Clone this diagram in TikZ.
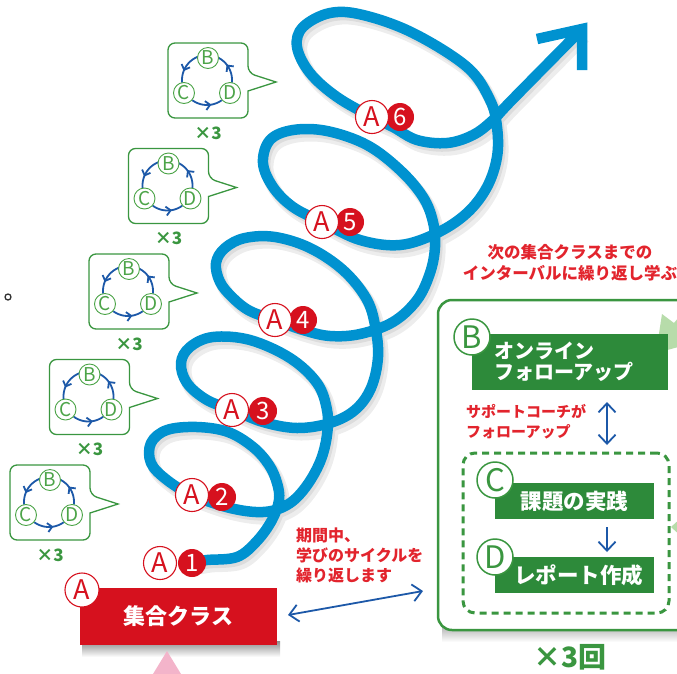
\documentclass[tikz,border=0pt]{standalone}
\usepackage{fontspec}
\setmainfont{Noto Sans CJK JP}
\usetikzlibrary{arrows.meta,decorations.markings}
\definecolor{spiral}{RGB}{0,146,208}
\definecolor{redA}{RGB}{214,17,30}
\definecolor{redtxt}{RGB}{226,36,45}
\definecolor{gbox}{RGB}{45,138,58}
\definecolor{gline}{RGB}{58,150,64}
\definecolor{glight}{RGB}{76,164,72}
\definecolor{lgreen}{RGB}{183,220,170}
\definecolor{dblue}{RGB}{28,88,168}
\definecolor{pinktri}{RGB}{243,180,202}
\newcommand\fs[2]{\fontsize{#1}{#2}\selectfont}
\newcommand\spiralpath{plot[smooth,tension=0.6] coordinates {(196,562) (207,560) (237,557) (257,541) (272,520) (279,500) (277,483) (269,465) (253,447) (228,432) (197,427) (167,430) (151,443) (151,463) (167,480) (192,495) (230,508) (263,512) (287,505) (305,488) (320,462) (327,435) (327,410) (317,383) (290,358) (250,340) (213,337) (190,347) (181,363) (187,383) (207,400) (233,410) (263,422) (297,428) (330,423) (355,410) (371,388) (378,357) (375,325) (366,298) (343,270) (310,248) (275,237) (245,238) (225,248) (216,263) (220,282) (233,298) (250,311) (275,320) (303,330) (330,336) (360,334) (393,322) (417,300) (430,273) (435,247) (433,222) (423,197) (400,170) (367,145) (327,131) (293,130) (270,140) (263,163) (273,187) (293,207) (322,222) (360,240) (400,245) (437,233) (467,213) (487,187) (497,157) (497,127) (490,100) (467,67) (413,33) (363,15) (330,13) (303,27) (297,47) (310,73) (337,97) (372,117) (393,127) (417,140) (447,143) (473,135) (493,120) (511,101) (580,31)}}
\tikzset{
 spiralline/.style={draw=spiral, line width=10.5pt, line join=round},
 shadowline/.style={draw=black, line width=13pt, opacity=0.07, line join=round},
 alab/.style={circle, draw=redA, line width=1.1pt, fill=white, text=redA, minimum size=33pt, inner sep=0pt, font=\fs{27}{27}},
 nlab/.style={circle, fill=redA, text=white, minimum size=28pt, inner sep=0pt, font=\fs{24}{24}},
 bubbleline/.style={draw=gline, line width=1.3pt, fill=white},
 bl/.style={circle, draw=glight, line width=0.9pt, fill=white, text=glight, minimum size=21pt, inner sep=0pt, font=\fs{19}{19}},
 cyc/.style={draw=dblue, line width=1.8pt, postaction={decorate}, decoration={markings, mark=at position 0.64 with {\arrow{Straight Barb[length=4.5pt,width=9pt]}}}},
 timestxt/.style={text=gline, font=\bfseries\fs{17}{17}, inner sep=0pt},
 redbox/.style={fill=redA, text=white, minimum width=197pt, minimum height=57pt, inner sep=0pt, font=\bfseries\fs{22}{22}},
 gcirc/.style={circle, draw=gline, line width=1.5pt, fill=white, text=gline, minimum size=36pt, inner sep=0pt, font=\fs{31}{31}},
 greenbar/.style={fill=gbox, text=white, inner sep=0pt, font=\bfseries\fs{21.5}{21.5}},
 rednote/.style={text=redtxt, inner sep=0pt},
 dbarrow/.style={draw=dblue, line width=1.8pt, arrows={Straight Barb[length=9pt,width=17pt]-Straight Barb[length=9pt,width=17pt]}},
 sbarrow/.style={draw=dblue, line width=1.8pt, arrows={-Straight Barb[length=9pt,width=17pt]}},
 cyclebubble/.pic={
   \draw[bubbleline] (0,37) [rounded corners=7pt] -- (0,0) -- (80,0) -- (80,30) [sharp corners] -- (108,39) -- (80,48) [rounded corners=7pt] -- (80,75) -- (0,75) -- cycle;
   \foreach \a/\b in {249/174,126/54,6/-63}
     \draw[cyc] plot[domain=\a:\b,samples=24] ({39+25*cos(\x)},{37+25*sin(\x)});
   \node[bl] (-B) at (40,15) {B};
   \node[bl] (-C) at (16,50) {C};
   \node[bl] (-D) at (62,50) {D};
   \node[timestxt] (-n) at (40,90) {×3};
 }
}
\begin{document}
\begin{tikzpicture}[x=1pt,y=-1pt]
\useasboundingbox (0,0) rectangle (677,673);
\clip (0,0) rectangle (677,673);
% stray mark
\draw[black!80, line width=1.3pt] (8,297) circle[radius=3pt];
% bubbles
\pic (bub5) at (10,465) {cyclebubble};
\pic (bub4) at (49.5,359.5) {cyclebubble};
\pic (bub3) at (89,254) {cyclebubble};
\pic (bub2) at (128.5,148.5) {cyclebubble};
\pic (bub1) at (168,43) {cyclebubble};
% spiral shadow
\begin{scope}[shift={(4,6)}]
  \draw[shadowline] \spiralpath;
\end{scope}
\begin{scope}[shift={(2,3)}]
  \draw[shadowline, line width=11pt] \spiralpath;
\end{scope}
\draw[spiralline] \spiralpath;
\draw[spiralline, line join=miter, line cap=butt] (537,39) -- (582,29) -- (582,70);
% spiral labels
\node[nlab] (n1) at (192,563) {1};
\node[alab] (a1) at (160,563) {A};
\node[nlab] (n2) at (222,497) {2};
\node[alab] (a2) at (192,495) {A};
\node[nlab] (n3) at (263,411) {3};
\node[alab] (a3) at (232,410) {A};
\node[nlab] (n4) at (303,320) {4};
\node[alab] (a4) at (275,320) {A};
\node[nlab] (n5) at (350,222) {5};
\node[alab] (a5) at (322,222) {A};
\node[nlab] (n6) at (400,117) {6};
\node[alab] (a6) at (372,117) {A};
% red class box
\shade[top color=black!45, bottom color=white] (82,641) rectangle (280,657);
\fill[pinktri] (153,674) -- (167,651) -- (181,674) -- cycle;
\node[redbox] (cls) at (178.5,616.5) {集合クラス};
\node[alab, minimum size=34pt] (bigA) at (82,590) {A};
% note left
\node[rednote, font=\bfseries\fs{16}{20}, anchor=west, align=left] (note2) at (296,555) {期間中、\\学びのサイクルを\\繰り返します};
\coordinate (arrL) at (288,615);
\coordinate (arrR) at (423,591);
\draw[dbarrow] (arrL) -- (arrR);
% right panel
\node[rednote, font=\bfseries\fs{16.5}{21}, align=center] (note1) at (570,263) {次の集合クラスまでの\\インターバルに繰り返し学ぶ};
\shade[top color=black!30, bottom color=white] (442,626) rectangle (677,642);
\node[draw=gline, line width=2.5pt, fill=white, rounded corners=14pt, minimum width=262pt, minimum height=330pt, inner sep=0pt] (panel) at (569,465) {};
\fill[lgreen] (656,353) -- (662,314) -- (674,323) -- (700,292) -- (712,302) -- (686,334) -- (697,342) -- cycle;
\fill[lgreen] (671,527) -- (682,517) -- (682,537) -- cycle;
\node[greenbar, minimum width=196pt, minimum height=56pt] (bbox) at (570,362) {};
\node[text=white, font=\bfseries\fs{20}{21.5}, anchor=west, align=left, inner sep=0pt] (btxt) at (494,362) {オンライン\\フォローアップ};
\node[gcirc] (B) at (472,337) {B};
\node[rednote, font=\bfseries\fs{15}{20}, anchor=west, align=left] (note3) at (466,422) {サポートコーチが\\フォローアップ};
\coordinate (vt) at (607,402);
\coordinate (vb) at (607,445);
\draw[dbarrow] (vt) -- (vb);
\node[draw=gline, line width=3pt, dash pattern=on 7pt off 5pt, rounded corners=12pt, minimum width=206pt, minimum height=160pt, inner sep=0pt] (cycbox) at (566,533) {};
\node[greenbar, minimum width=159pt, minimum height=36pt] (cbox) at (574.5,501) {課題の実践};
\node[gcirc] (C) at (495,480) {C};
\coordinate (ct) at (607,527);
\coordinate (cb) at (607,552);
\draw[sbarrow] (ct) -- (cb);
\node[greenbar, minimum width=159pt, minimum height=36pt] (dbox) at (574.5,575) {\hspace{8pt}レポート作成};
\node[gcirc] (D) at (495,557) {D};
\node[text=gline, font=\bfseries\fs{28}{28}, inner sep=0pt] (times) at (570,657) {×3回};
\end{tikzpicture}
\end{document}
